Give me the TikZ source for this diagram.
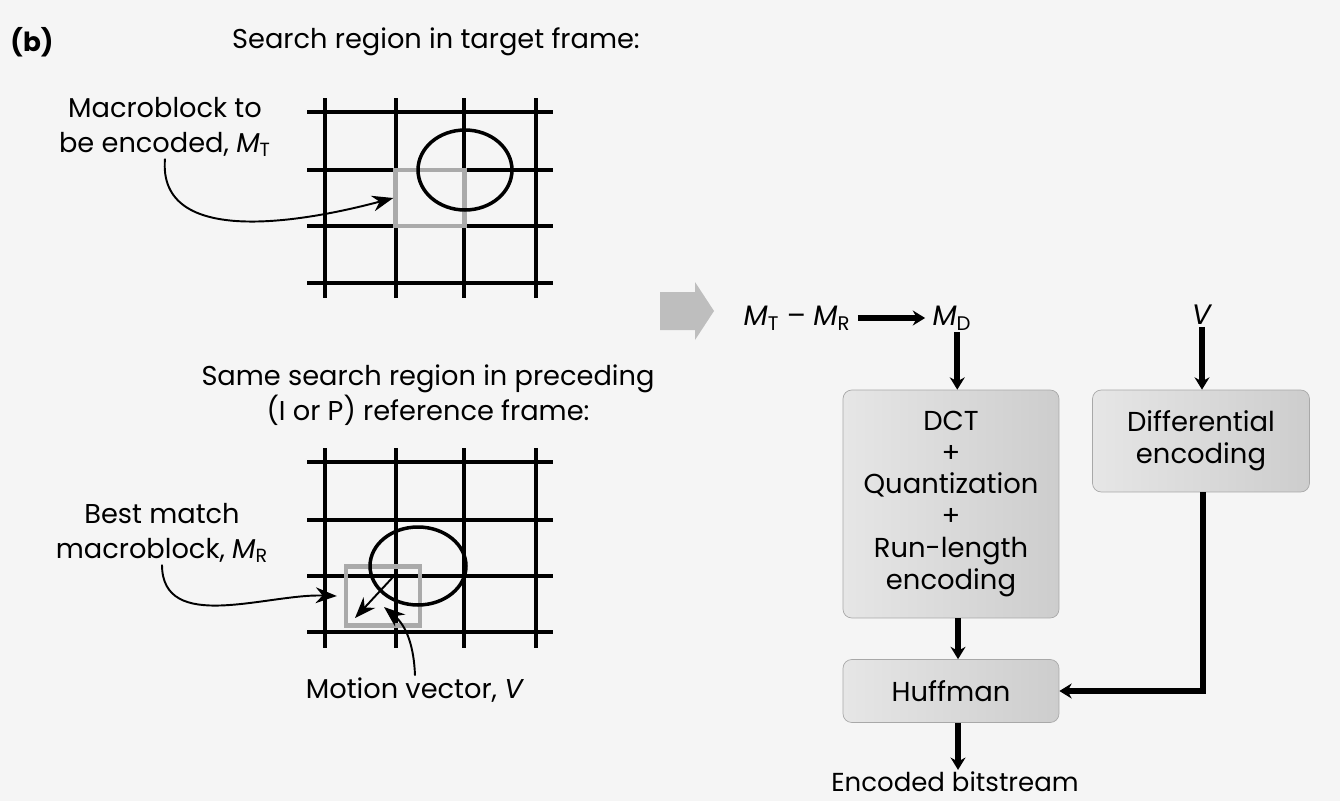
\documentclass[tikz,border=0pt]{standalone}
\usepackage{fontspec}
\setmainfont{Poppins}
\usepackage{tikz}
\usetikzlibrary{arrows.meta,positioning,calc,shapes}
\definecolor{paper}{RGB}{245,245,245}
\definecolor{boxedge}{RGB}{168,168,168}
\definecolor{boxlight}{RGB}{230,230,230}
\definecolor{boxdark}{RGB}{205,205,205}
\definecolor{sqgray}{RGB}{170,170,170}
\definecolor{bigarrow}{RGB}{190,190,190}
\newcommand{\mblk}[1]{\textit{M}\textsubscript{#1}}

\begin{document}
\begin{tikzpicture}[
    x=0.02cm, y=-0.02cm,
    caption/.style={align=center, font=\fontsize{15.5}{19.6}\selectfont, inner sep=1pt},
    gridline/.style={line width=2pt},
    blob/.style={line width=2pt},
    matchsq/.style={rectangle, draw=sqgray, line width=2.5pt, inner sep=0pt},
    stage/.style={rectangle, draw=boxedge, rounded corners=5pt, left color=boxlight, right color=boxdark, align=center, font=\fontsize{15.6}{18.2}\selectfont, minimum width=4.32cm},
    pointer/.style={-{Stealth[length=12pt,width=9pt]}, line width=1.1pt},
    flow/.style={-{Stealth[length=7pt,width=8.5pt]}, line width=3.4pt}
]
\useasboundingbox[fill=paper] (0,0) rectangle (1340,801);

% Titles
\node[font=\bfseries\fontsize{15}{16}\selectfont] (tag) at (32,42) {(b)};
\node[caption] (toptitle) at (436,42) {Search region in target frame:};
\node[caption] (bottitle) at (428,395) {Same search region in preceding\\(I or P) reference frame:};

% Target frame grid
\foreach \gx in {325,396,464,536}
  \draw[gridline] (\gx,98) -- (\gx,298);
\foreach \gy in {112,170,226,283}
  \draw[gridline] (307,\gy) -- (553,\gy);
\node[matchsq, minimum width=1.38cm, minimum height=1.12cm] (tsq) at (430,198) {};
\draw[blob] (465,170) ellipse [x radius=0.94cm, y radius=0.8cm];

% Reference frame grid
\foreach \gx in {325,396,464,536}
  \draw[gridline] (\gx,448) -- (\gx,648);
\foreach \gy in {462,520,576,632}
  \draw[gridline] (307,\gy) -- (553,\gy);
\node[matchsq, minimum width=1.48cm, minimum height=1.18cm] (rsq) at (383,596) {};
\draw[blob] (418,566) ellipse [x radius=0.96cm, y radius=0.78cm];

% Labels
\node[caption] (mtlbl) at (165,127) {Macroblock to\\be encoded, \mblk{T}};
\node[caption] (mrlbl) at (162,533) {Best match\\macroblock, \mblk{R}};
\node[caption] (mvlbl) at (415,690) {Motion vector, \textit{V}};

\coordinate (mv0) at (393,577);
\coordinate (mv1) at (355,618);
\coordinate (mvtip) at (384,607);

% Pointers
\draw[pointer] (mtlbl.south) to[out=-95, in=195] (tsq.west);
\draw[pointer] (mrlbl.south) to[out=-90, in=178] ([xshift=-4]rsq.west);
\draw[pointer] (mvlbl.north) to[out=92, in=-40] (mvtip);
\draw[pointer] (mv0) -- (mv1);

% Big gray arrow
\fill[bigarrow] (660,292) -- (695,292) -- (695,282) -- (714,311) -- (695,340) -- (695,330) -- (660,330) -- cycle;

% Difference
\node[caption, font=\fontsize{16}{18}\selectfont] (mtmr) at (797,318) {\mblk{T} -- \mblk{R}};
\node[caption, font=\fontsize{16}{18}\selectfont] (md) at (952,318) {\mblk{D}};
\node[caption, font=\fontsize{16}{18}\selectfont] (vin) at (1202,315) {\textit{V}};

% Stages
\node[stage, minimum height=4.56cm] (dct) at (951,504) {DCT\\+\\Quantization\\+\\Run-length\\encoding};
\node[stage, minimum width=4.34cm, minimum height=2.04cm] (diff) at (1201,441) {Differential\\encoding};
\node[stage, minimum height=1.26cm] (huff) at (951,691) {Huffman};
\node[caption, font=\fontsize{14.8}{18}\selectfont] (out) at (955,782) {Encoded bitstream};

% Arrows
\draw[flow, line width=3.4pt, shorten <=3pt, shorten >=3pt] (mtmr.east) -- (md.west);
\draw[flow] ([xshift=3]md.south) -- ([xshift=3]md.south |- dct.north);
\draw[flow] (vin.south) -- (vin.south |- diff.north);
\draw[flow] ([xshift=4]dct.south) -- ([xshift=4]huff.north);
\draw[flow] ([xshift=4]huff.south) -- ([xshift=4]huff.south |- out.north);
\draw[flow] ([xshift=1]diff.south) |- (huff.east);

\end{tikzpicture}
\end{document}
